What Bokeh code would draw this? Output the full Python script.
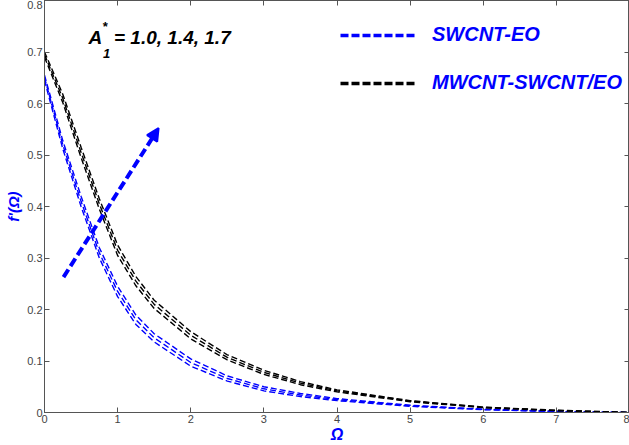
from bokeh.plotting import figure
from bokeh.models import Legend, LegendItem, LinearAxis, Arrow, NormalHead, Label, FixedTicker, CustomJSTickFormatter
from bokeh.embed import file_html
from bokeh.resources import INLINE

# Omega grid
omega = [0, 0.25, 0.5, 0.75, 1, 1.25, 1.5, 2, 2.5, 3, 3.5, 4, 5, 6, 7, 8]

# SWCNT-EO for A1* = 1.0, 1.4, 1.7
sw_a10 = [0.645, 0.512, 0.400, 0.300, 0.225, 0.171, 0.137, 0.090, 0.061, 0.042, 0.031, 0.023, 0.012, 0.0055, 0.002, 0.0]
sw_a14 = [0.650, 0.520, 0.410, 0.310, 0.235, 0.180, 0.145, 0.097, 0.066, 0.046, 0.034, 0.025, 0.013, 0.0060, 0.002, 0.0]
sw_a17 = [0.655, 0.528, 0.420, 0.320, 0.245, 0.189, 0.153, 0.104, 0.071, 0.050, 0.037, 0.027, 0.014, 0.0065, 0.002, 0.0]

# MWCNT-SWCNT/EO for A1* = 1.0, 1.4, 1.7
mw_a10 = [0.690, 0.602, 0.495, 0.395, 0.305, 0.246, 0.202, 0.143, 0.102, 0.074, 0.054, 0.040, 0.021, 0.0095, 0.0035, 0.0]
mw_a14 = [0.695, 0.610, 0.505, 0.405, 0.315, 0.255, 0.210, 0.150, 0.107, 0.078, 0.057, 0.042, 0.022, 0.0100, 0.0040, 0.0]
mw_a17 = [0.700, 0.618, 0.515, 0.415, 0.325, 0.264, 0.218, 0.157, 0.112, 0.082, 0.060, 0.044, 0.023, 0.0105, 0.0045, 0.0]

x_ticks = [0, 1, 2, 3, 4, 5, 6, 7, 8]
y_ticks = [0, 0.1, 0.2, 0.3, 0.4, 0.5, 0.6, 0.7, 0.8]
y_tick_labels = ["0", "0.1", "0.2", "0.3", "0.4", "0.5", "0.6", "0.7", "0.8"]

# arrow (direction of increasing A1*)
arrow_start = (0.26, 0.263)
arrow_end = (1.56, 0.552)

BLUE = "#0000ff"
FONT = "Liberation Sans"

p = figure(width=629, height=445, x_range=(0, 8), y_range=(0, 0.8),
           output_backend="svg", toolbar_location=None,
           min_border_left=44, min_border_right=0, min_border_top=0, min_border_bottom=20)
p.xgrid.visible = False
p.ygrid.visible = False
p.outline_line_color = "#555555"
p.background_fill_color = "white"

for ax, ticks in ((p.xaxis[0], x_ticks), (p.yaxis[0], y_ticks)):
    ax.ticker = FixedTicker(ticks=ticks)
    ax.major_tick_in = 5
    ax.major_tick_out = 0
    ax.minor_tick_line_color = None
    ax.axis_line_color = "#555555"
    ax.major_tick_line_color = "#555555"
    ax.major_label_text_color = "#444444"
    ax.major_label_text_font = FONT
    ax.major_label_text_font_size = "11px"
    ax.major_label_standoff = 2

p.yaxis[0].major_label_overrides = {t: l for t, l in zip(y_ticks, y_tick_labels)}

p.xaxis[0].axis_label = "Ω"
p.xaxis[0].axis_label_text_color = BLUE
p.xaxis[0].axis_label_text_font = FONT
p.xaxis[0].axis_label_text_font_style = "bold italic"
p.xaxis[0].axis_label_text_font_size = "16px"
p.xaxis[0].axis_label_standoff = 0

p.yaxis[0].axis_label = "f'(Ω)"
p.yaxis[0].axis_label_text_color = BLUE
p.yaxis[0].axis_label_text_font = FONT
p.yaxis[0].axis_label_text_font_style = "bold italic"
p.yaxis[0].axis_label_text_font_size = "15px"
p.yaxis[0].axis_label_standoff = 2

# mirror ticks on top and right
for loc, ticks in (("above", x_ticks), ("right", y_ticks)):
    ax = LinearAxis(ticker=FixedTicker(ticks=ticks), major_tick_in=5, major_tick_out=0,
                    minor_tick_line_color=None,
                    formatter=CustomJSTickFormatter(code="return '';"),
                    major_label_standoff=0, axis_line_color="#555555",
                    major_tick_line_color="#555555")
    p.add_layout(ax, loc)

for ys in (sw_a10, sw_a14, sw_a17):
    p.line(omega, ys, line_color=BLUE, line_width=1.4, line_dash="6 3")
for ys in (mw_a10, mw_a14, mw_a17):
    p.line(omega, ys, line_color="black", line_width=1.4, line_dash="6 3")

# legend renderers (thick dashes), kept outside the visible range
r_sw = p.line([-5, -4], [-1, -1], line_color=BLUE, line_width=3.5, line_dash="8 3")
r_mw = p.line([-5, -4], [-1, -1], line_color="black", line_width=3.5, line_dash="8 3")
legend = Legend(items=[LegendItem(label="SWCNT-EO", renderers=[r_sw]),
                       LegendItem(label="MWCNT-SWCNT/EO", renderers=[r_mw])],
                location=(296, 318), glyph_width=75, glyph_height=20, label_height=20,
                spacing=25, label_standoff=17, padding=0, margin=0,
                border_line_color=None, background_fill_alpha=0,
                label_text_color=BLUE, label_text_font=FONT,
                label_text_font_style="bold italic", label_text_font_size="20px")
p.add_layout(legend)

# arrow
p.add_layout(Arrow(x_start=arrow_start[0], y_start=arrow_start[1],
                   x_end=arrow_end[0], y_end=arrow_end[1],
                   line_color=BLUE, line_width=4, line_dash="9 4",
                   end=NormalHead(size=12, fill_color=BLUE, line_color=BLUE, line_width=2)))

# annotation text A1* = 1.0, 1.4, 1.7
common = dict(text_font=FONT, text_font_style="bold italic", text_color="black")
p.add_layout(Label(x=0.6, y=0.708, text="A", text_font_size="19px", **common))
p.add_layout(Label(x=0.79, y=0.734, text="*", text_font_size="13px", **common))
p.add_layout(Label(x=0.8, y=0.688, text="1", text_font_size="13px", **common))
p.add_layout(Label(x=0.95, y=0.708, text="= 1.0, 1.4, 1.7", text_font_size="19px", **common))

open("out.html", "w").write(file_html(p, INLINE))
